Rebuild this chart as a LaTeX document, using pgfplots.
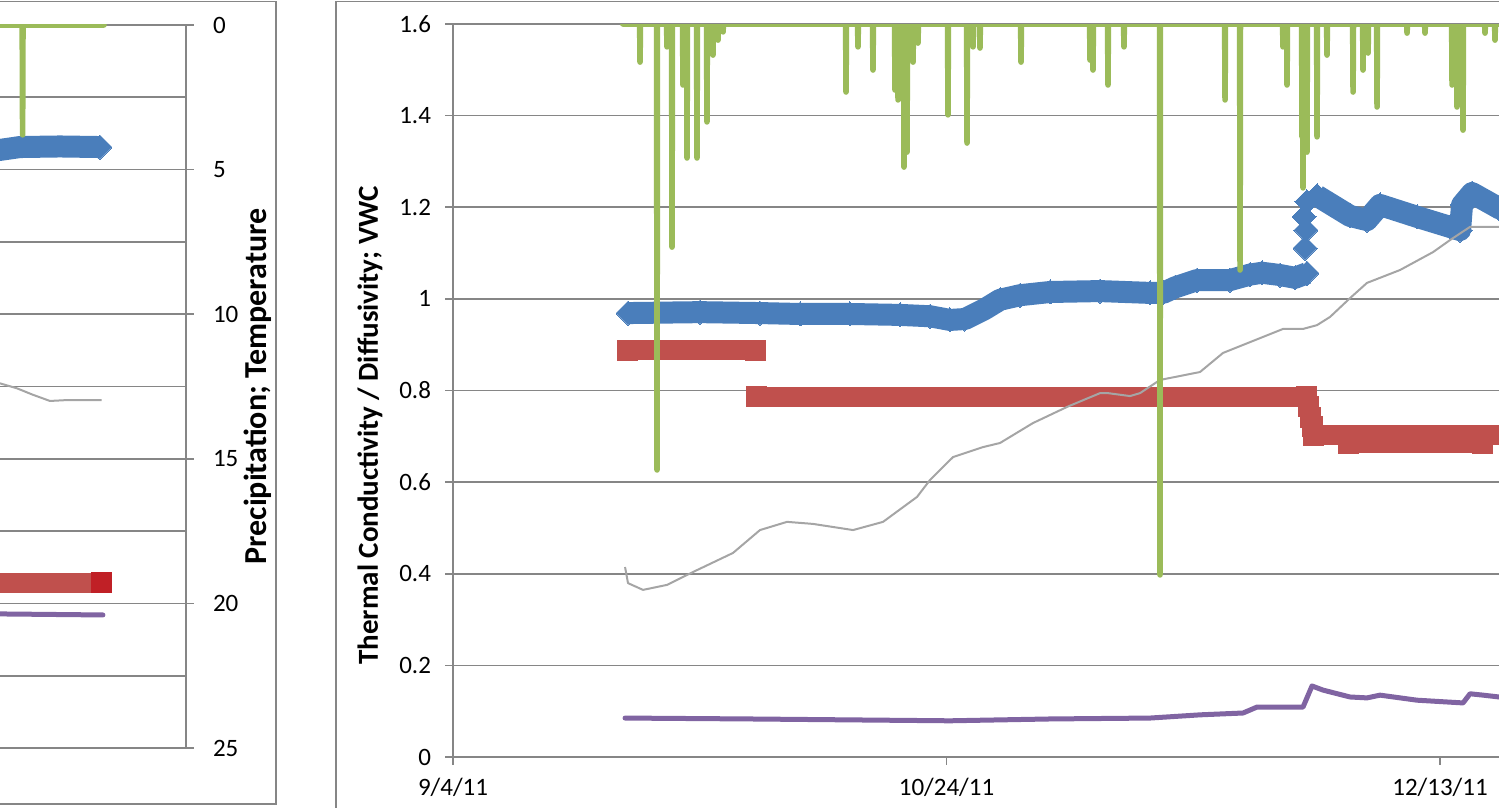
\documentclass[border=0pt]{standalone}
\usepackage{fontspec}
\setmainfont{Carlito}
\usepackage{pgfplots}
\pgfplotsset{compat=1.18}

\definecolor{gridgray}{RGB}{134,134,134}
\definecolor{framegray}{RGB}{134,134,134}
\definecolor{tcblue}{RGB}{74,126,187}
\definecolor{tdred}{RGB}{192,80,77}
\definecolor{tdredlast}{RGB}{192,32,38}
\definecolor{tempgray}{RGB}{165,165,165}
\definecolor{precgreen}{RGB}{155,187,89}
\definecolor{vwcpurple}{RGB}{128,100,162}

\pgfplotsset{
  excel/.style={
    scale only axis, anchor=south west,
    tick align=outside, major tick length=4pt, minor tick length=0pt,
    tick style={gridgray, line width=0.85pt},
    axis line style={gridgray, line width=0.85pt},
    grid style={gridgray, line width=0.85pt},
    ticklabel style={font=\fontsize{12.5}{15}\selectfont, text=black},
    label style={font=\bfseries\fontsize{14.5}{17}\selectfont, text=black},
  },
  tcband/.style={tcblue, line width=11pt, line join=round,
    mark=diamond*, mark size=6pt,
    mark options={solid, xscale=1.333, line width=0pt, draw=tcblue, fill=tcblue}},
  tcmarks/.style={only marks, mark=diamond*, mark size=6pt,
    mark options={xscale=1.333, line width=0pt, draw=tcblue, fill=tcblue}},
  tdband/.style={tdred, line width=10pt, mark=square*, mark size=5pt,
    mark options={solid, line width=0pt, draw=tdred, fill=tdred}},
  tdmarks/.style={only marks, mark=square*, mark size=5pt,
    mark options={line width=0pt, draw=tdred, fill=tdred}},
  vwcline/.style={vwcpurple, line width=2.5pt, line cap=round, line join=round, no marks},
  templine/.style={tempgray, line width=1pt, line join=round, no marks},
  precline/.style={precgreen, line width=2.8pt, line cap=round, line join=round, no marks},
}

\begin{document}
\begin{tikzpicture}
\useasboundingbox (0,0) rectangle (749.5pt,404pt);
\clip (0,0) rectangle (749.5pt,404pt);

% ---------------- left chart (right-hand part) ----------------
\draw[framegray, line width=0.75pt] (-10pt,2pt) -- (138pt,2pt) -- (138pt,403.2pt) -- (-10pt,403.2pt);

\begin{axis}[excel,
  at={(-55pt,30pt)}, width=148pt, height=361.5pt,
  xmin=0, xmax=30, ymin=0, ymax=25, y dir=reverse,
  axis x line=none, axis y line*=right,
  ytick={0,5,10,15,20,25}, yticklabels={0,5,10,15,20,25},
  minor ytick={2.5,7.5,12.5,17.5,22.5},
  ymajorgrids, yminorgrids,
  yticklabel style={anchor=west, xshift=6pt},
  ylabel={Precipitation; Temperature},
  ylabel style={at={(axis description cs:1.243,0.5)}, anchor=center,
    font=\bfseries\fontsize{16}{19}\selectfont},
]
% thermal conductivity
\addplot[tcband, mark indices={5}] coordinates {(0,4.32) (11.14,4.32) (13.17,4.22) (17.22,4.20) (21.28,4.22)};
% thermal diffusivity
\addplot[tdband, mark=none] coordinates {(0,19.28) (21.48,19.28)};
\addplot[only marks, mark=square*, mark size=5pt, mark options={line width=0pt, draw=tdredlast, fill=tdredlast}] coordinates {(21.48,19.28)};
% volumetric water content
\addplot[vwcline] coordinates {(0,20.33) (10,20.36) (21.58,20.40)};
% temperature
\addplot[templine] coordinates {(0,12.3) (11.14,12.39) (12.84,12.56) (14.52,12.79) (16.21,13.00) (17.90,12.97) (21.45,12.97)};
% precipitation
\addplot[precline] coordinates {(0,0) (13.40,0) (13.44,3.80) (13.48,0) (21.69,0)};
\end{axis}

% ---------------- right chart ----------------
\draw[framegray, line width=0.75pt] (760pt,403.2pt) -- (168pt,403.2pt) -- (168pt,-10pt);

\begin{axis}[excel,
  at={(226.5pt,25.5pt)}, width=543.5pt, height=366.5pt,
  xmin=0, xmax=110.13, ymin=0, ymax=1.6,
  axis x line*=bottom, axis y line*=left,
  xtick={0,50,100}, xticklabels={9/4/11,10/24/11,12/13/11},
  xticklabel style={yshift=-3pt},
  ytick={0,0.2,0.4,0.6,0.8,1,1.2,1.4,1.6},
  yticklabels={0,0.2,0.4,0.6,0.8,1,1.2,1.4,1.6},
  yticklabel style={xshift=-3.5pt},
  ymajorgrids,
  ylabel={Thermal Conductivity / Diffusivity; VWC},
  ylabel style={at={(axis description cs:-0.0764,0.452)}, anchor=center},
]
% thermal conductivity
\addplot[tcband] table {
17.73 0.969
25.03 0.971
31.10 0.969
35.16 0.967
40.22 0.967
45.29 0.965
48.33 0.962
50.35 0.954
51.87 0.956
53.90 0.978
55.42 0.998
57.45 1.008
60.49 1.015
65.55 1.017
70.62 1.013
71.94 1.013
73.15 1.025
75.38 1.041
78.72 1.041
80.75 1.053
81.97 1.057
83.79 1.052
85.31 1.046
86.52 1.056
};
\addplot[tcmarks] table {
86.32 1.111
86.42 1.150
86.22 1.179
86.52 1.212
};
\addplot[tcband] table {
87.54 1.225
90.88 1.181
92.60 1.172
93.92 1.205
97.67 1.179
101.01 1.157
102.03 1.150
102.23 1.205
103.24 1.231
105.98 1.198
109.12 1.170
};
% thermal diffusivity
\addplot[tdband] coordinates {(17.63,0.888) (30.60,0.888)};
\addplot[tdband] coordinates {(30.70,0.786) (86.52,0.786)};
\addplot[tdmarks] coordinates {(86.63,0.764) (86.83,0.742) (87.03,0.722)};
\addplot[tdband] coordinates {(90.68,0.685) (104.26,0.685)};
\addplot[tdband] coordinates {(87.23,0.702) (110.5,0.702)};
% volumetric water content
\addplot[vwcline] table {
17.43 0.085
30.09 0.083
50.35 0.079
60.49 0.083
70.62 0.085
75.68 0.092
80.04 0.096
81.46 0.109
86.12 0.109
87.03 0.155
88.15 0.146
90.88 0.131
92.60 0.129
93.92 0.135
97.67 0.124
102.33 0.118
103.04 0.138
104.36 0.135
105.98 0.131
108.10 0.124
};
\end{axis}

% secondary scale of the right chart: precipitation and temperature (reversed)
\begin{axis}[
  scale only axis, anchor=south west, hide axis,
  at={(226.5pt,25.5pt)}, width=543.5pt, height=366.5pt,
  xmin=0, xmax=110.13, ymin=0, ymax=25, y dir=reverse,
]
% temperature
\addplot[templine] table {
17.43 18.52
17.73 19.07
19.25 19.30
21.68 19.13
24.32 18.69
28.37 18.04
31.10 17.26
33.84 16.98
36.47 17.05
40.53 17.26
43.57 16.98
47.01 16.13
48.33 15.55
50.66 14.77
53.70 14.43
55.42 14.29
58.76 13.61
62.21 13.06
65.55 12.59
66.36 12.59
68.59 12.69
69.60 12.59
71.63 12.14
75.68 11.87
78.01 11.22
80.75 10.85
84.09 10.40
86.12 10.40
87.54 10.27
88.86 9.99
90.88 9.35
92.60 8.83
95.95 8.39
99.29 7.78
101.01 7.37
103.04 6.92
104.36 6.92
105.98 6.92
108.10 6.86
};
% precipitation
\addplot[precline] table {
17.20 0
18.91 0
18.95 1.30
18.99 0
20.63 0
20.67 15.21
20.71 0
21.64 0
21.68 0.78
21.72 0
22.15 0
22.19 7.61
22.23 0
23.26 0
23.30 2.08
23.34 0
23.67 0
23.71 4.57
23.75 0
24.68 0
24.72 4.57
24.76 0
25.69 0
25.73 3.34
25.77 0
26.30 0
26.34 1.06
26.38 0
26.81 0
26.85 0.55
26.89 0
27.32 0
27.36 0.27
27.40 0
39.78 0
39.82 2.32
39.86 0
40.99 0
41.03 0.78
41.07 0
42.51 0
42.55 1.57
42.59 0
44.74 0
44.78 2.25
44.82 0
45.05 0
45.09 2.59
45.13 0
45.65 0
45.69 4.88
45.73 0
45.96 0
46.00 4.37
46.04 0
46.57 0
46.61 1.30
46.65 0
47.07 0
47.11 0.65
47.15 0
50.11 0
50.15 3.10
50.19 0
52.04 0
52.08 4.06
52.12 0
52.65 0
52.69 0.78
52.73 0
53.35 0
53.39 0.82
53.43 0
57.51 0
57.55 1.30
57.59 0
64.50 0
64.54 1.23
64.58 0
64.80 0
64.84 1.57
64.88 0
66.32 0
66.36 2.08
66.40 0
67.94 0
67.98 0.78
68.02 0
71.59 0
71.63 18.79
71.67 0
78.18 0
78.22 2.59
78.26 0
79.70 0
79.74 8.39
79.78 0
84.05 0
84.09 0.78
84.13 0
84.46 0
84.50 2.08
84.54 0
85.98 0
86.02 3.85
86.06 0
86.08 0
86.12 5.59
86.16 0
86.48 0
86.52 4.37
86.56 0
87.50 0
87.54 3.85
87.58 0
88.51 0
88.55 1.06
88.59 0
91.15 0
91.19 2.32
91.23 0
92.16 0
92.20 1.57
92.24 0
92.67 0
92.71 0.99
92.75 0
93.58 0
93.62 2.83
93.66 0
96.62 0
96.66 0.31
96.70 0
98.44 0
98.48 0.31
98.52 0
101.18 0
101.22 2.08
101.26 0
101.68 0
101.72 2.83
101.76 0
101.99 0
102.03 1.47
102.07 0
102.29 0
102.33 3.62
102.37 0
104.52 0
104.56 0.31
104.60 0
105.53 0
105.57 0.55
105.61 0
111.00 0
};
\end{axis}
\end{tikzpicture}
\end{document}
